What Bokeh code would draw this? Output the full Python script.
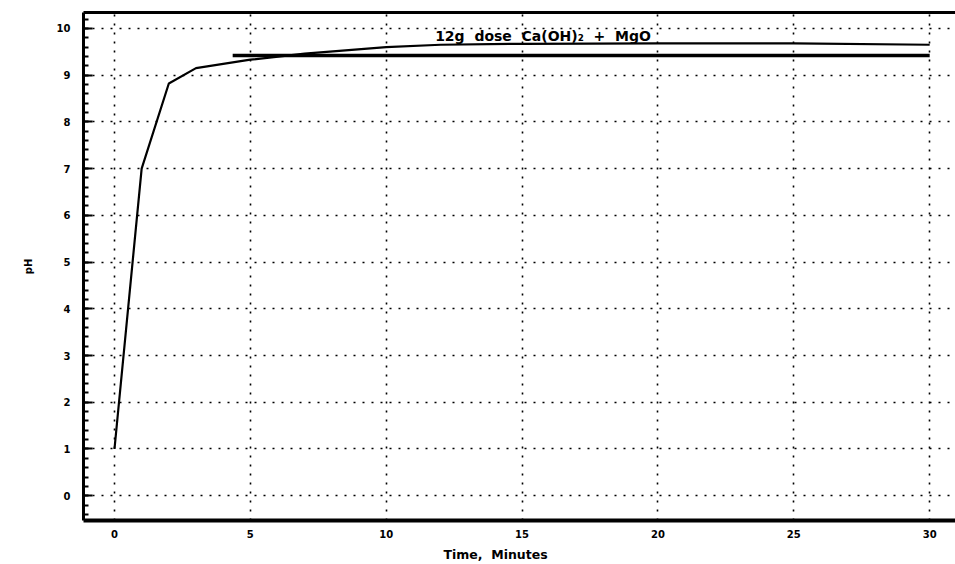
from bokeh.plotting import figure
from bokeh.models import (Range1d, LinearAxis, SingleIntervalTicker, FixedTicker, Label, Grid)
from bokeh.embed import file_html
from bokeh.resources import INLINE

# pH vs time data
time_min = [0, 1, 2, 3, 5, 7, 10, 12, 15, 20, 25, 30]
ph_values = [1.0, 7.0, 8.82, 9.15, 9.33, 9.46, 9.60, 9.65, 9.67, 9.68, 9.68, 9.65]

# reference level line
ref_time = [4.35, 30]
ref_ph = [9.42, 9.42]

NB = "\u00a0"
annotation_text = "12g" + NB * 2 + "dose" + NB * 2 + "Ca(OH)\u2082" + NB * 2 + "+" + NB * 2 + "MgO"
x_title = "Time," + NB * 2 + "Minutes" + NB * 11
y_title = "pH"

FONT = "DejaVu Sans"

p = figure(width=955, height=564, output_backend="svg", toolbar_location=None,
           x_range=Range1d(-1.14, 30.95), y_range=Range1d(-0.53, 10.34),
           min_border_left=83, min_border_right=0, min_border_top=12,
           min_border_bottom=43, x_axis_type=None, y_axis_type=None)
p.outline_line_color = None
p.background_fill_color = "white"
p.border_fill_color = "white"

# bottom axis
xaxis = LinearAxis(ticker=SingleIntervalTicker(interval=5, num_minor_ticks=0))
xaxis.axis_line_width = 4
xaxis.axis_line_color = "black"
xaxis.major_tick_in = 0
xaxis.major_tick_out = 0
xaxis.minor_tick_in = 0
xaxis.minor_tick_out = 0
xaxis.major_label_standoff = 9
xaxis.major_label_text_font = FONT
xaxis.major_label_text_font_style = "bold"
xaxis.major_label_text_font_size = "10px"
xaxis.major_label_text_color = "black"
xaxis.axis_label = x_title
xaxis.axis_label_text_font = FONT
xaxis.axis_label_text_font_style = "bold"
xaxis.axis_label_text_font_size = "12.5px"
xaxis.axis_label_text_color = "black"
xaxis.axis_label_standoff = 6
p.add_layout(xaxis, "below")

# left axis
yaxis = LinearAxis(ticker=SingleIntervalTicker(interval=1, num_minor_ticks=5))
yaxis.axis_line_width = 3
yaxis.axis_line_color = "black"
yaxis.major_tick_in = 9
yaxis.major_tick_out = 0
yaxis.minor_tick_in = 5
yaxis.minor_tick_out = 0
yaxis.major_tick_line_width = 2
yaxis.minor_tick_line_width = 2
yaxis.major_label_standoff = 13
yaxis.major_label_text_font = FONT
yaxis.major_label_text_font_style = "bold"
yaxis.major_label_text_font_size = "10px"
yaxis.major_label_text_color = "black"
yaxis.axis_label = y_title
yaxis.axis_label_text_font = FONT
yaxis.axis_label_text_font_style = "bold"
yaxis.axis_label_text_font_size = "10px"
yaxis.axis_label_text_color = "black"
yaxis.axis_label_standoff = 20
p.add_layout(yaxis, "left")

# top frame line
top = LinearAxis(ticker=FixedTicker(ticks=[]))
top.axis_line_width = 3
top.major_tick_in = 0
top.major_tick_out = 0
top.minor_tick_in = 0
top.minor_tick_out = 0
top.major_label_standoff = 0
p.add_layout(top, "above")

# dotted grid
gx = Grid(dimension=0, ticker=xaxis.ticker)
gy = Grid(dimension=1, ticker=yaxis.ticker)
for g in (gx, gy):
    g.grid_line_color = "black"
    g.grid_line_width = 1.6
    g.grid_line_dash = "2 7"
p.add_layout(gx)
p.add_layout(gy)

p.line(time_min, ph_values, line_color="black", line_width=2.2)
p.line(ref_time, ref_ph, line_color="black", line_width=3.5)

p.add_layout(Label(x=11.8, y=9.84, text=annotation_text, text_font=FONT,
                   text_font_style="bold", text_font_size="14px",
                   text_color="black", text_baseline="alphabetic"))

open("out.html", "w").write(file_html(p, INLINE))
